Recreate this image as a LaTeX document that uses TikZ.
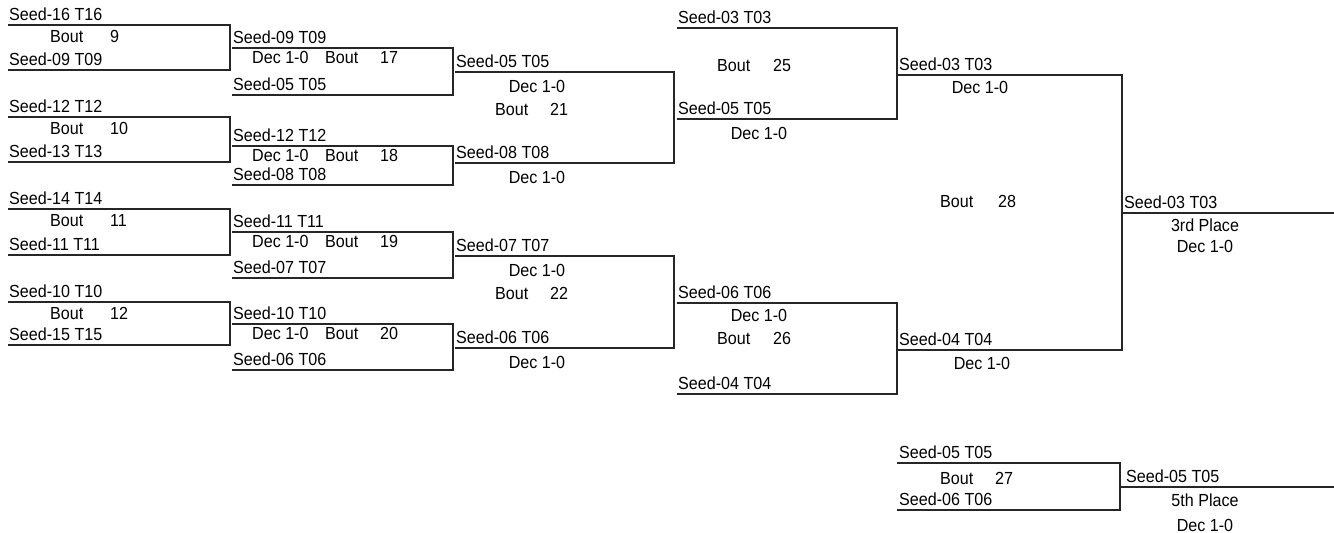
\documentclass[tikz,border=0pt]{standalone}
\usepackage{fontspec}
\setmainfont[FakeStretch=0.92]{Liberation Sans}
\begin{document}
\begin{tikzpicture}[x=1pt,y=-1pt,
  br/.style={line width=1.3pt,draw=black!85,line join=miter},
  nm/.style={inner sep=0pt,anchor=base west,font=\fontsize{17.5}{19}\selectfont},
  ct/.style={inner sep=0pt,anchor=base,font=\fontsize{17.5}{19}\selectfont}]
\useasboundingbox (0,0) rectangle (1334,533);
% ---------- column 1 ----------
\foreach \id/\t/\b/\na/\nb/\num in {m9/25/70/Seed-16 T16/Seed-09 T09/9,
  m10/117/162/Seed-12 T12/Seed-13 T13/10,
  m11/209/255/Seed-14 T14/Seed-11 T11/11,
  m12/302/345/Seed-10 T10/Seed-15 T15/12}{
  \coordinate (\id a) at (8,\t);
  \coordinate (\id ae) at (230,\t);
  \coordinate (\id b) at (8,\b);
  \coordinate (\id be) at (230,\b);
  \draw[br] (\id a) -- (\id ae) -- (\id be) -- (\id b);
  \node[nm] (\id ta) at (9,\t-5) {\na};
  \node[nm] (\id tb) at (9,\b-5) {\nb};
  \node[nm] (\id bo) at (50,\t+17) {Bout};
  \node[nm] (\id no) at (110,\t+17) {\num};
}
% ---------- column 2 ----------
\foreach \id/\t/\b/\na/\nb/\num in {m17/48/95/Seed-09 T09/Seed-05 T05/17,
  m18/146/185/Seed-12 T12/Seed-08 T08/18,
  m19/232/278/Seed-11 T11/Seed-07 T07/19,
  m20/324/370/Seed-10 T10/Seed-06 T06/20}{
  \coordinate (\id a) at (232,\t);
  \coordinate (\id ae) at (453,\t);
  \coordinate (\id b) at (232,\b);
  \coordinate (\id be) at (453,\b);
  \draw[br] (\id a) -- (\id ae) -- (\id be) -- (\id b);
  \node[nm] (\id ta) at (233,\t-5) {\na};
  \node[nm] (\id tb) at (233,\b-5) {\nb};
  \node[nm] (\id dc) at (252,\t+15) {Dec 1-0};
  \node[nm] (\id bo) at (325,\t+15) {Bout};
  \node[nm] (\id no) at (380,\t+15) {\num};
}
% ---------- column 3 ----------
\foreach \id/\t/\b/\na/\nb/\num in {m21/72/163/Seed-05 T05/Seed-08 T08/21,
  m22/256/348/Seed-07 T07/Seed-06 T06/22}{
  \coordinate (\id a) at (455,\t);
  \coordinate (\id ae) at (674,\t);
  \coordinate (\id b) at (455,\b);
  \coordinate (\id be) at (674,\b);
  \draw[br] (\id a) -- (\id ae) -- (\id be) -- (\id b);
  \node[nm] (\id ta) at (456,\t-5) {\na};
  \node[nm] (\id tb) at (456,\b-5) {\nb};
  \node[ct] (\id da) at (537,\t+20) {Dec 1-0};
  \node[nm] (\id bo) at (495,\t+43) {Bout};
  \node[nm] (\id no) at (550,\t+43) {\num};
  \node[ct] (\id db) at (537,\b+20) {Dec 1-0};
}
% ---------- column 4 ----------
\coordinate (m25a) at (677,28);  \coordinate (m25ae) at (897,28);
\coordinate (m25b) at (677,119); \coordinate (m25be) at (897,119);
\draw[br] (m25a) -- (m25ae) -- (m25be) -- (m25b);
\node[nm] (m25ta) at (678,23) {Seed-03 T03};
\node[nm] (m25bo) at (717,71) {Bout};
\node[nm] (m25no) at (773,71) {25};
\node[nm] (m25tb) at (678,114) {Seed-05 T05};
\node[ct] (m25db) at (759,139) {Dec 1-0};

\coordinate (m26a) at (677,303); \coordinate (m26ae) at (897,303);
\coordinate (m26b) at (677,394); \coordinate (m26be) at (897,394);
\draw[br] (m26a) -- (m26ae) -- (m26be) -- (m26b);
\node[nm] (m26ta) at (678,298) {Seed-06 T06};
\node[ct] (m26da) at (759,321) {Dec 1-0};
\node[nm] (m26bo) at (717,344) {Bout};
\node[nm] (m26no) at (773,344) {26};
\node[nm] (m26tb) at (678,389) {Seed-04 T04};
% ---------- column 5 ----------
\coordinate (m28a) at (897,75);  \coordinate (m28ae) at (1122,75);
\coordinate (m28b) at (897,350); \coordinate (m28be) at (1122,350);
\draw[br] (m28a) -- (m28ae) -- (m28be) -- (m28b);
\node[nm] (m28ta) at (899,70) {Seed-03 T03};
\node[ct] (m28da) at (980,93) {Dec 1-0};
\node[nm] (m28bo) at (940,207) {Bout};
\node[nm] (m28no) at (998,207) {28};
\node[nm] (m28tb) at (899,345) {Seed-04 T04};
\node[ct] (m28db) at (982,369) {Dec 1-0};
% ---------- 3rd place ----------
\coordinate (p3) at (1122,213); \coordinate (p3e) at (1334,213);
\draw[br] (p3) -- (p3e);
\node[nm] (p3t) at (1124,208) {Seed-03 T03};
\node[ct] (p3p) at (1205,231) {3rd Place};
\node[ct] (p3d) at (1205,252) {Dec 1-0};
% ---------- bout 27 ----------
\coordinate (m27a) at (897,463); \coordinate (m27ae) at (1120,463);
\coordinate (m27b) at (897,510); \coordinate (m27be) at (1120,510);
\draw[br] (m27a) -- (m27ae) -- (m27be) -- (m27b);
\node[nm] (m27ta) at (899,458) {Seed-05 T05};
\node[nm] (m27bo) at (940,484) {Bout};
\node[nm] (m27no) at (995,484) {27};
\node[nm] (m27tb) at (899,505) {Seed-06 T06};
% ---------- 5th place ----------
\coordinate (p5) at (1120,487); \coordinate (p5e) at (1334,487);
\draw[br] (p5) -- (p5e);
\node[nm] (p5t) at (1126,482) {Seed-05 T05};
\node[ct] (p5p) at (1205,506) {5th Place};
\node[ct] (p5d) at (1205,531) {Dec 1-0};
\end{tikzpicture}
\end{document}
